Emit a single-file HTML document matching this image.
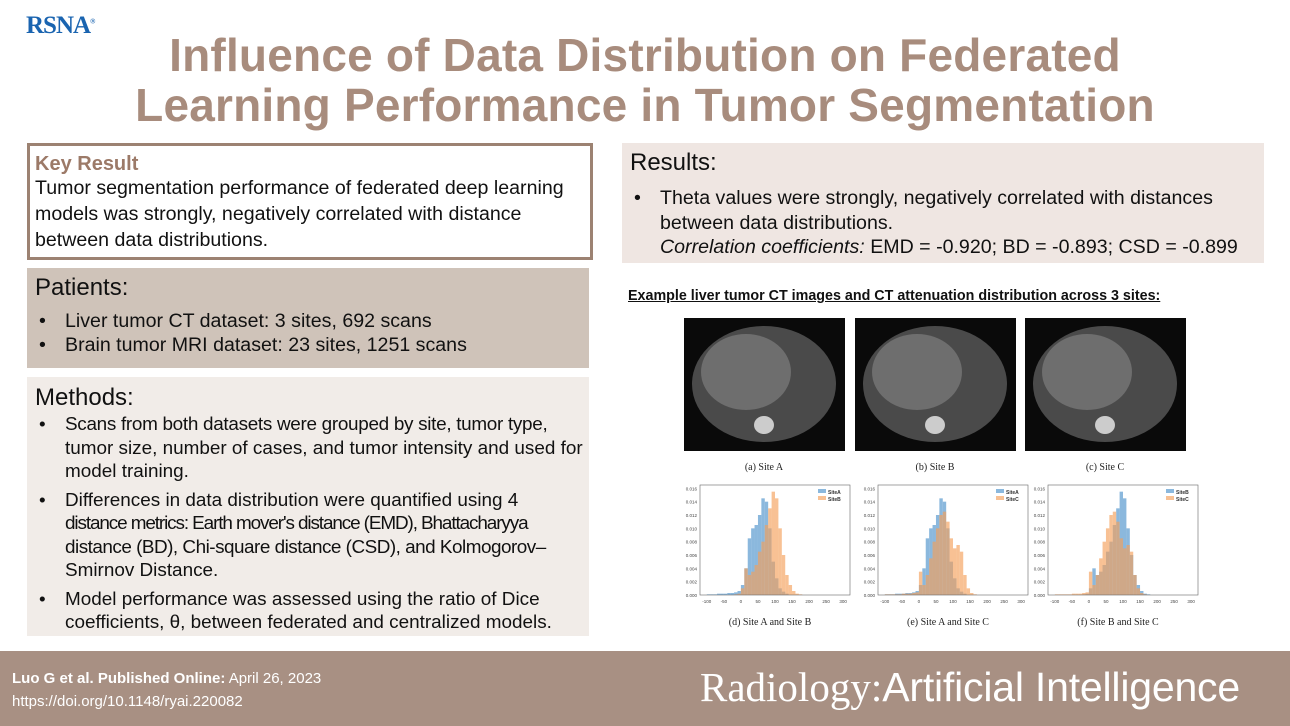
<!DOCTYPE html>
<html><head><meta charset="utf-8">
<style>
*{margin:0;padding:0;box-sizing:border-box}
body{width:1290px;height:726px;overflow:hidden;background:#fff;font-family:"Liberation Sans",sans-serif;position:relative;color:#111}
.abs{position:absolute}
.title{left:0;width:1290px;text-align:center;color:#a88c7d;font-weight:bold;font-size:46px;line-height:50px;top:30px;letter-spacing:0.2px}
.box{position:absolute}
.h{font-size:24px;line-height:28px}
.t{font-size:19.6px;line-height:24px}
ul{list-style:none}
li{position:relative;padding-left:30px}
li:before{content:"•";position:absolute;left:4px}
.m li{white-space:nowrap}
</style></head><body>
<div class="abs" style="left:26px;top:12px;font-family:'Liberation Serif',serif;font-weight:bold;font-size:25px;color:#1a64b0;letter-spacing:-1px">RSNA<sup style="font-size:7px">®</sup></div>
<div class="abs title">Influence of Data Distribution on Federated<br>Learning Performance in Tumor Segmentation</div>

<div class="box" style="left:27px;top:143px;width:566px;height:117px;border:3px solid #9c8272;padding:6px 5px">
<div style="color:#9c7a68;font-weight:bold;font-size:20px;line-height:24px">Key Result</div>
<div class="t" style="line-height:26px;margin-top:-1px">Tumor segmentation performance of federated deep learning models was strongly, negatively correlated with distance between data distributions.</div>
</div>

<div class="box" style="left:27px;top:268px;width:562px;height:100px;background:#cfc3b9;padding:6px 8px">
<div class="h">Patients:</div>
<ul class="t" style="margin-top:7px;line-height:24px"><li>Liver tumor CT dataset: 3 sites, 692 scans</li><li>Brain tumor MRI dataset: 23 sites, 1251 scans</li></ul>
</div>

<div class="box" style="left:27px;top:377px;width:562px;height:259px;background:#f1ece8;padding:7px 8px">
<div class="h">Methods:</div>
<ul class="t m" style="margin-top:1px;line-height:23.5px;font-size:18.9px">
<li><span style="letter-spacing:-0.3px">Scans from both datasets were grouped by site, tumor type,</span><br>tumor size, number of cases, and tumor intensity and used for<br>model training.</li>
<li style="margin-top:5px">Differences in data distribution were quantified using 4<br><span style="letter-spacing:-1.1px">distance metrics: Earth mover's distance (EMD), Bhattacharyya</span><br><span style="letter-spacing:-0.5px">distance (BD), Chi-square distance (CSD), and Kolmogorov–</span><br>Smirnov Distance.</li>
<li style="margin-top:5px">Model performance was assessed using the ratio of Dice<br>coefficients, θ, between federated and centralized models.</li>
</ul></div>

<div class="box" style="left:622px;top:143px;width:642px;height:120px;background:#efe6e2;padding:6px 8px">
<div class="h">Results:</div>
<ul class="t" style="margin-top:9px;line-height:24.5px"><li>Theta values were strongly, negatively correlated with distances between data distributions.<br><i>Correlation coefficients:</i> EMD = -0.920; BD = -0.893; CSD = -0.899</li></ul>
</div>

<div class="abs" style="left:628px;top:288px;font-weight:bold;font-size:14.3px;text-decoration:underline;white-space:nowrap">Example liver tumor CT images and CT attenuation distribution across 3 sites:</div>

<svg class="abs" style="left:0;top:0" width="1290" height="726">
<g id="ct"></g><g id="hist"></g>
</svg>

<div class="box" style="left:0;top:651px;width:1290px;height:75px;background:#a89083">
<div class="abs" style="left:12px;top:16px;color:#fff;font-size:15px;line-height:23px"><b>Luo G et al. Published Online:</b> April 26, 2023<br>https://doi.org/10.1148/ryai.220082</div>
<div class="abs" style="left:700px;top:12px;color:#fff;font-size:41px;white-space:nowrap"><span style="font-family:'Liberation Serif',serif">Radiology:</span><span style="font-weight:300;letter-spacing:-0.2px">Artificial Intelligence</span></div>
</div>

<script>
const binStarts=[-100,-90,-80,-70,-60,-50,-40,-30,-20,-10,0,10,20,30,40,50,60,70,80,90,100,110,120,130,140,150,160,170,180,190];
const siteA=[.0001,.0001,.0001,.0002,.0002,.0002,.0003,.0003,.0004,.0006,.0015,.004,.0085,.010,.0105,.012,.0145,.014,.010,.005,.0025,.001,.0005,.0002,0,0,0,0,0,0];
const siteB=[0,0,0,0,0,0,0,0,.0001,.0002,.001,.004,.003,.0035,.0045,.0065,.008,.0105,.013,.0155,.0145,.010,.006,.003,.0015,.0006,.0002,.0001,0,0];
const siteC=[.0001,.0001,.0001,.0001,.0001,.0002,.0002,.0002,.0003,.0004,.0035,.0015,.003,.0055,.008,.010,.012,.0125,.011,.0085,.007,.0075,.0065,.003,.001,.0003,.0001,0,0,0];
const xTicks=[-100,-50,0,50,100,150,200,250,300];
const yTicks=[0,0.002,0.004,0.006,0.008,0.010,0.012,0.014,0.016];
const panelSeries=[["SiteA","SiteB"],["SiteA","SiteC"],["SiteB","SiteC"]];
const panelCaptions=["(d) Site A and Site B","(e) Site A and Site C","(f) Site B and Site C"];
const ctCaptions=["(a) Site A","(b) Site B","(c) Site C"];
const data={SiteA:siteA,SiteB:siteB,SiteC:siteC};
const NS="http://www.w3.org/2000/svg";
function mk(t,a,p){const e=document.createElementNS(NS,t);for(const k in a)e.setAttribute(k,a[k]);p.appendChild(e);return e;}
const ct=document.getElementById('ct'),hist=document.getElementById('hist');
const ctX=[684,855,1025];
ctX.forEach((x,i)=>{
 const r=mk('rect',{x:x,y:318,width:161,height:133,fill:'#0a0a0a'},ct);
 
 mk('ellipse',{cx:x+80,cy:384,rx:72,ry:58,fill:'#4a4a4a'},ct);
 mk('ellipse',{cx:x+62,cy:372,rx:45,ry:38,fill:'#6e6e6e'},ct);
 mk('ellipse',{cx:x+80,cy:425,rx:10,ry:9,fill:'#ccc'},ct);
 const c=mk('text',{x:x+80,y:470,'text-anchor':'middle','font-family':'Liberation Serif,serif','font-size':10,fill:'#222'},ct);
 c.textContent=ctCaptions[i];
 
});
const px=[700,878,1048],pw=150,py=485,ph=110;
const colors=['rgba(100,160,210,0.75)','rgba(245,160,90,0.65)'];
px.forEach((x0,p)=>{
 const g=mk('g',{},hist);
 
 const X=v=>x0+(v+120)/440*pw, Y=v=>py+ph-v/0.0165*ph;
 panelSeries[p].forEach((s,si)=>{
  data[s].forEach((v,b)=>{ if(v<=0)return;
   const r=mk('rect',{x:X(binStarts[b]),y:Y(v),width:X(binStarts[b]+10)-X(binStarts[b]),height:Y(0)-Y(v),fill:colors[si]},g);
   
  });
  mk('rect',{x:x0+pw-32,y:py+4+si*7,width:8,height:4,fill:colors[si]},g);
  const lt=mk('text',{x:x0+pw-22,y:py+9+si*7,'font-size':5,'font-weight':'bold',fill:'#333'},g);lt.textContent=s;
  
 });
 mk('rect',{x:x0,y:py,width:pw,height:ph,fill:'none',stroke:'#666','stroke-width':0.6},g);
 xTicks.forEach(t=>{const tx=mk('text',{x:X(t),y:py+ph+8,'font-size':4.5,'text-anchor':'middle',fill:'#444'},g);tx.textContent=t;});
 yTicks.forEach(t=>{const tx=mk('text',{x:x0-3,y:Y(t)+2,'font-size':4.5,'text-anchor':'end',fill:'#444'},g);tx.textContent=t.toFixed(3);});
 const c=mk('text',{x:x0+70,y:625,'text-anchor':'middle','font-family':'Liberation Serif,serif','font-size':10,fill:'#222'},g);
 c.textContent=panelCaptions[p];
 
});
</script>
</body></html>
